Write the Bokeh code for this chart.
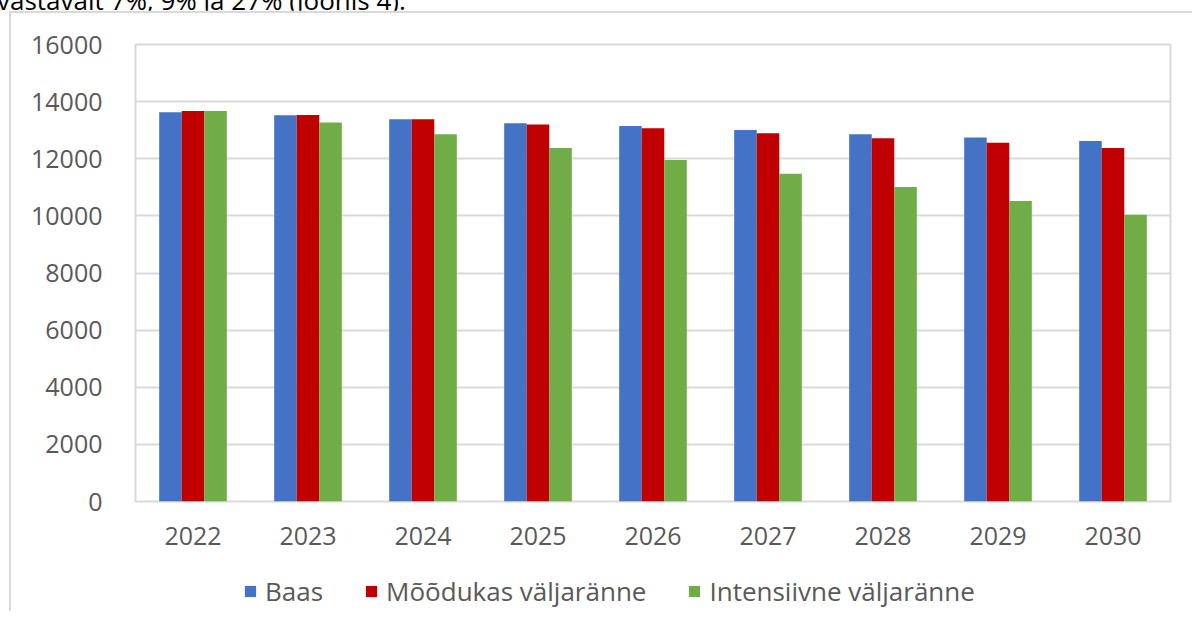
from bokeh.plotting import figure
from bokeh.layouts import column
from bokeh.models import (ColumnDataSource, FactorRange, Legend, LegendItem, Range1d, Div)
from bokeh.transform import dodge
from bokeh.embed import file_html
from bokeh.resources import INLINE

years = ["2022", "2023", "2024", "2025", "2026", "2027", "2028", "2029", "2030"]
baas = [13630, 13525, 13385, 13245, 13150, 13010, 12860, 12740, 12620]
moodukas = [13675, 13530, 13380, 13195, 13065, 12890, 12715, 12560, 12375]
intensiivne = [13675, 13265, 12860, 12375, 11960, 11475, 11010, 10525, 10040]
series_names = ["Baas", "Mõõdukas väljaränne", "Intensiivne väljaränne"]
y_ticks = [0, 2000, 4000, 6000, 8000, 10000, 12000, 14000, 16000]
top_text = "vastavalt 7%, 9% ja 27% (joonis 4)."

FONT = "Open Sans"
GREY = "#595959"
LINE = "#d9d9d9"
colors = ["#4472C4", "#C00000", "#70AD47"]

src = ColumnDataSource(dict(year=years, baas=baas, moodukas=moodukas, intensiivne=intensiivne))

p = figure(width=1187, height=558, x_range=FactorRange(*years, range_padding=0),
           y_range=Range1d(0, 16000), output_backend="svg", toolbar_location=None,
           min_border_left=135, min_border_right=17, min_border_top=34, min_border_bottom=67)
p.background_fill_color = "white"
p.border_fill_color = "white"
p.outline_line_color = LINE
p.outline_line_width = 2

bw = 0.196
p.vbar(x=dodge("year", -bw, range=p.x_range), top="baas", width=bw, source=src,
       fill_color=colors[0], line_color=None)
p.vbar(x=dodge("year", 0, range=p.x_range), top="moodukas", width=bw, source=src,
       fill_color=colors[1], line_color=None)
p.vbar(x=dodge("year", bw, range=p.x_range), top="intensiivne", width=bw, source=src,
       fill_color=colors[2], line_color=None)

p.xgrid.grid_line_color = None
p.ygrid.grid_line_color = LINE
p.ygrid.grid_line_width = 2
p.yaxis.ticker = y_ticks

for ax in (p.xaxis[0], p.yaxis[0]):
    ax.axis_line_color = None
    ax.major_tick_line_color = None
    ax.minor_tick_line_color = None
    ax.major_tick_out = 0
    ax.major_tick_in = 0
    ax.major_label_text_font = FONT
    ax.major_label_text_font_size = "25px"
    ax.major_label_text_color = GREY
p.yaxis.major_label_standoff = 33
p.xaxis.major_label_standoff = 25

# legend in its own strip below the chart (its frame is aligned with the chart frame)
lf = figure(width=1187, height=52, x_range=Range1d(0, 1), y_range=Range1d(0, 1),
            x_axis_type=None, y_axis_type=None, output_backend="svg", toolbar_location=None,
            min_border=0, min_border_left=0, min_border_right=0, min_border_top=0,
            min_border_bottom=0)
lf.outline_line_color = None
lf.background_fill_color = "white"
lf.border_fill_color = "white"
lf.grid.visible = False
# off-range placeholder renderers that only supply the legend swatch styles
swatch = ColumnDataSource(dict(x=[-5], top=[0]))
lr = [lf.vbar(x="x", top="top", width=0.1, source=swatch, fill_color=c, line_color=None)
      for c in colors]

legend = Legend(items=[LegendItem(label=n, renderers=[r]) for n, r in zip(series_names, lr)],
                location=(108, 11), orientation="horizontal",
                glyph_width=14, glyph_height=14, label_standoff=8, spacing=41,
                padding=0, margin=0, border_line_color=None, background_fill_alpha=0,
                label_text_font=FONT, label_text_font_size="26px", label_text_color=GREY)
lf.add_layout(legend)

top = Div(text=('<div style="position:absolute; left:-8px; top:-20px; font-family:\'Open Sans\';'
                ' font-size:26px; line-height:1.2; color:#000000; white-space:nowrap;">'
                + top_text + '</div>'
                '<div style="position:absolute; left:4px; top:6px; width:1183px; height:600px;'
                ' border-left:2px solid #d9d9d9; border-top:2px solid #d9d9d9;'
                ' z-index:10; pointer-events:none;"></div>'),
          width=1187, height=0, styles={"overflow": "visible"})

layout = column(top, p, lf, spacing=0)

open("out.html", "w").write(file_html(layout, INLINE))
